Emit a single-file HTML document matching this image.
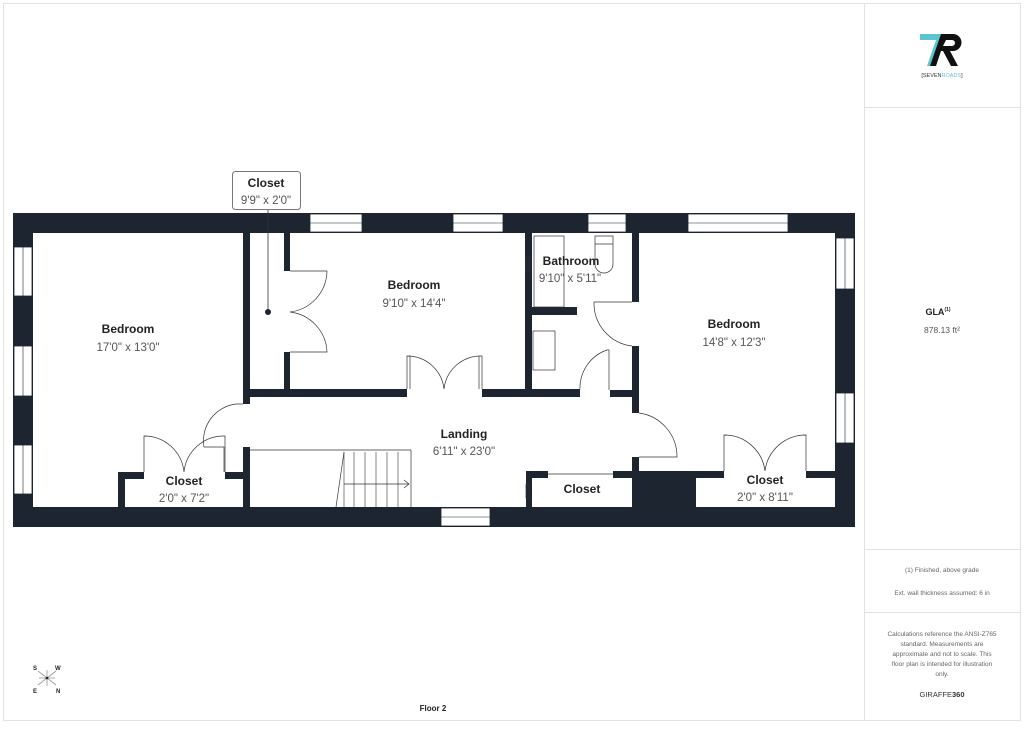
<!DOCTYPE html>
<html><head><meta charset="utf-8"><style>
html,body{margin:0;padding:0;background:#fff;}
body{width:1024px;height:725px;overflow:hidden;font-family:"Liberation Sans",sans-serif;}
</style></head><body>
<svg width="1024" height="725" viewBox="0 0 1024 725" xmlns="http://www.w3.org/2000/svg" font-family="Liberation Sans, sans-serif">
<rect x="3.5" y="3.5" width="1017" height="717" fill="#fff" stroke="#e2e2e2"/>
<line x1="864.5" y1="3" x2="864.5" y2="721" stroke="#e2e2e2"/>
<line x1="864" y1="107.5" x2="1021" y2="107.5" stroke="#e2e2e2"/>
<line x1="864" y1="549.5" x2="1021" y2="549.5" stroke="#e2e2e2"/>
<line x1="864" y1="612.5" x2="1021" y2="612.5" stroke="#e2e2e2"/>

<!-- logo -->
<polygon points="920,34 944,34 934,66 927,66 936,40 920,40" fill="#5bc4d1"/>
<path d="M941,34 h12 a8,8 0 0 1 0,17 h-3 l8,15 h-7 l-8,-15 h-2 l-5,15 h-6z M946,40 l-3,6 h9 a3,3 0 0 0 0,-6z" fill="#111"/>
<text x="942" y="77" font-size="5.5" text-anchor="middle" fill="#333">[SEVEN<tspan fill="#5bc4d1">ROADS</tspan>]</text>

<text x="938" y="315" font-size="9" font-weight="bold" text-anchor="middle" fill="#222">GLA<tspan font-size="5" dy="-4">(1)</tspan></text>
<text x="942" y="333" font-size="8.5" text-anchor="middle" fill="#555">878.13 ft²</text>
<text x="942" y="572" font-size="6.5" text-anchor="middle" fill="#666">(1) Finished, above grade</text>
<text x="942" y="595" font-size="6.5" text-anchor="middle" fill="#666">Ext. wall thickness assumed: 6 in</text>
<g font-size="6.5" text-anchor="middle" fill="#666">
<text x="942" y="636">Calculations reference the ANSI-Z765</text>
<text x="942" y="646">standard. Measurements are</text>
<text x="942" y="656">approximate and not to scale. This</text>
<text x="942" y="666">floor plan is intended for illustration</text>
<text x="942" y="676">only.</text>
</g>
<text x="942" y="697" font-size="7.5" text-anchor="middle" fill="#333">GIRAFFE<tspan font-weight="bold">360</tspan></text>

<!-- compass -->
<g stroke="#999" stroke-width="0.8">
<line x1="38" y1="671" x2="56" y2="685"/><line x1="56" y1="671" x2="38" y2="685"/>
<line x1="39" y1="678" x2="55" y2="678"/><line x1="47" y1="670" x2="47" y2="686"/>
</g>
<circle cx="47" cy="678" r="1.3" fill="#222"/>
<g font-size="6" font-weight="bold" fill="#222">
<text x="33" y="670">S</text><text x="55" y="670">W</text><text x="33" y="693">E</text><text x="56" y="693">N</text>
</g>
<text x="433" y="711" font-size="8" font-weight="bold" text-anchor="middle" fill="#222">Floor 2</text>

<!-- walls -->
<g fill="#1c2530">
<rect x="13" y="213" width="842" height="20"/>
<rect x="13" y="507" width="842" height="20"/>
<rect x="13" y="213" width="20" height="314"/>
<rect x="835" y="213" width="20" height="314"/>
<rect x="243" y="233" width="7" height="171"/>
<rect x="243" y="447" width="7" height="60"/>
<rect x="284" y="233" width="6" height="38"/>
<rect x="284" y="352" width="6" height="38"/>
<rect x="250" y="389" width="157" height="8"/>
<rect x="482" y="389" width="98" height="8"/>
<rect x="525" y="233" width="7" height="156"/>
<rect x="532" y="307" width="45" height="8"/>
<rect x="632" y="233" width="7" height="69"/>
<rect x="632" y="346" width="7" height="67"/>
<rect x="610" y="390" width="22" height="7"/>
<rect x="632" y="457" width="7" height="14"/>
<rect x="613" y="471" width="19" height="7"/>
<rect x="526" y="471" width="6" height="36"/>
<rect x="526" y="471" width="22" height="7"/>
<rect x="632" y="471" width="64" height="36"/>
<rect x="696" y="471" width="28" height="7"/>
<rect x="806" y="471" width="29" height="7"/>
<rect x="118" y="472" width="7" height="35"/>
<rect x="118" y="472" width="26" height="7"/>
<rect x="225" y="472" width="18" height="7"/>
</g>
<!-- windows -->
<g fill="#fff" stroke="#1c2530" stroke-width="0.8">
<rect x="310" y="214" width="52" height="18"/>
<rect x="453" y="214" width="50" height="18"/>
<rect x="588" y="214" width="38" height="18"/>
<rect x="688" y="214" width="100" height="18"/>
<rect x="441" y="508" width="49" height="18"/>
<rect x="14" y="247" width="18" height="49"/>
<rect x="14" y="346" width="18" height="50"/>
<rect x="14" y="445" width="18" height="49"/>
<rect x="836" y="238" width="18" height="51"/>
<rect x="836" y="393" width="18" height="50"/>
</g>
<g stroke="#1c2530" stroke-width="0.6">
<line x1="310" y1="223" x2="362" y2="223"/><line x1="453" y1="223" x2="503" y2="223"/>
<line x1="588" y1="223" x2="626" y2="223"/><line x1="688" y1="223" x2="788" y2="223"/>
<line x1="441" y1="517" x2="490" y2="517"/>
<line x1="23" y1="247" x2="23" y2="296"/><line x1="23" y1="346" x2="23" y2="396"/><line x1="23" y1="445" x2="23" y2="494"/>
<line x1="845" y1="238" x2="845" y2="289"/><line x1="845" y1="393" x2="845" y2="443"/>
</g>
<!-- doors & fixtures -->
<g fill="none" stroke="#333" stroke-width="0.7">
<path d="M290,271 h37 v0 M327,271 A42,42 0 0 1 290,312 A42,42 0 0 1 327,352 h-37"/>
<path d="M407,389 v-33 h3 v33 M407,356 A37,37 0 0 1 444,389 M482,389 v-33 h-3 v33 M482,356 A37,37 0 0 0 444,389"/>
<path d="M243,404 h-7 A37,37 0 0 0 204,447 M204,447 h20 v25"/>
<path d="M144,472 v-36 h3 M144,436 A40,40 0 0 1 184,472 M225,472 v-36 h-3 M225,436 A40,40 0 0 0 184,472"/>
<path d="M632,302 h-38 A43,43 0 0 0 632,346"/>
<path d="M609,390 v-40 h-2 A40,40 0 0 0 580,389 M609,350 v40"/>
<path d="M639,413 A44,44 0 0 1 677,457 M639,457 h38 v-1"/>
<path d="M724,471 v-36 h3 M724,435 A41,41 0 0 1 765,471 M806,471 v-36 h-3 M806,435 A41,41 0 0 0 765,471"/>
<path d="M548,474 h65"/>
<path d="M250,450 h161 M336,507 l8,-55 M411,450 v57 M344,484 h65 M404,480 l5,4 -5,4"/>
<rect x="534" y="236" width="30" height="71"/>
<rect x="533" y="331" width="22" height="39"/>
<path d="M595,236 h18 v28 a9,9 0 0 1 -18,0z M595,244 h18"/>
<rect x="526" y="258" width="3" height="14"/>
<rect x="526" y="484" width="3" height="14"/>
</g>
<g stroke="#333" stroke-width="0.6">
<line x1="344" y1="452" x2="344" y2="507"/><line x1="354" y1="452" x2="354" y2="507"/><line x1="365" y1="452" x2="365" y2="507"/><line x1="376" y1="452" x2="376" y2="507"/><line x1="387" y1="452" x2="387" y2="507"/><line x1="398" y1="452" x2="398" y2="507"/>
</g>

<!-- closet callout -->
<rect x="232.5" y="171.5" width="68" height="38" rx="3" fill="#fff" stroke="#777"/>
<line x1="268" y1="210" x2="268" y2="311" stroke="#333" stroke-width="0.8"/>
<circle cx="268" cy="312" r="3" fill="#1c2530"/>

<!-- labels -->
<g text-anchor="middle">
<g font-size="12" font-weight="bold" fill="#222">
<text x="266" y="187">Closet</text>
<text x="128" y="333">Bedroom</text>
<text x="414" y="289">Bedroom</text>
<text x="571" y="265">Bathroom</text>
<text x="734" y="328">Bedroom</text>
<text x="464" y="438">Landing</text>
<text x="184" y="485">Closet</text>
<text x="582" y="493">Closet</text>
<text x="765" y="484">Closet</text>
</g>
<g font-size="11.5" fill="#555">
<text x="266" y="204">9'9" x 2'0"</text>
<text x="128" y="351">17'0" x 13'0"</text>
<text x="414" y="307">9'10" x 14'4"</text>
<text x="570" y="282">9'10" x 5'11"</text>
<text x="734" y="346">14'8" x 12'3"</text>
<text x="464" y="455">6'11" x 23'0"</text>
<text x="184" y="502">2'0" x 7'2"</text>
<text x="765" y="501">2'0" x 8'11"</text>
</g>
</g>
</svg>
</body></html>
